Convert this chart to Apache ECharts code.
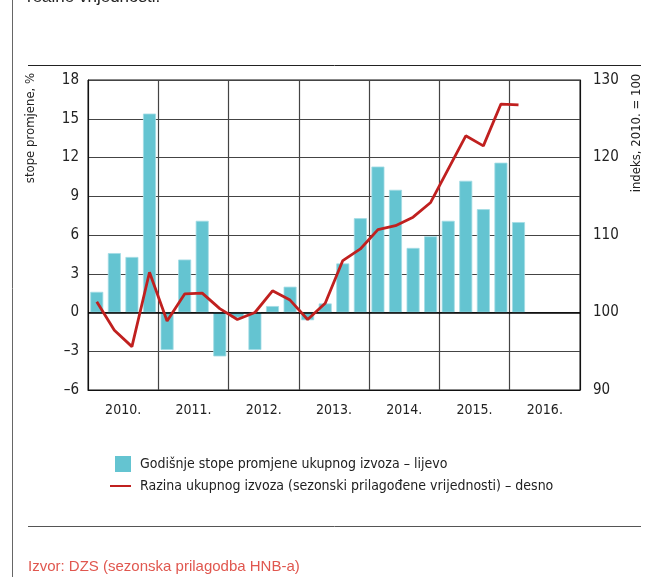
<!DOCTYPE html>
<html>
<head>
<meta charset="utf-8">
<script src="https://cdn.jsdelivr.net/npm/echarts@6/dist/echarts.min.js"></script>
<style>
  html, body { margin: 0; padding: 0; background: #fff; }
  #myChart { width: 654px; height: 577px; }
</style>
</head>
<body>
<div id="myChart"></div>
<script>
// godine na osi x
var years = ['2010.', '2011.', '2012.', '2013.', '2014.', '2015.', '2016.'];
// godisnje stope promjene ukupnog izvoza (lijevo), kvartali 2010Q1 - 2016Q1
var rateData = [1.6, 4.6, 4.3, 15.4, -2.9, 4.1, 7.1, -3.4, -0.4, -2.9, 0.5, 2.0,
                -0.6, 0.7, 3.8, 7.3, 11.3, 9.5, 5.0, 5.9, 7.1, 10.2, 8.0, 11.6, 7.0];
// razina ukupnog izvoza, indeks 2010. = 100 (desno)
var levelData = [101.4, 97.7, 95.6, 105.2, 98.9, 102.4, 102.5, 100.5, 99.1, 100.0, 102.8, 101.6,
                 99.1, 101.2, 106.7, 108.2, 110.7, 111.2, 112.3, 114.2, 118.5, 122.8, 121.5, 126.9, 126.8];
var barName = 'Godišnje stope promjene ukupnog izvoza – lijevo';
var lineName = 'Razina ukupnog izvoza (sezonski prilagođene vrijednosti) – desno';

var quarters = [];
for (var i = 0; i < years.length; i++) {
    for (var q = 1; q <= 4; q++) quarters.push(years[i] + 'Q' + q);
}

var narrow = "'Liberation Sans Narrow', 'DejaVu Sans Condensed', sans-serif";
var regular = "'Liberation Sans', Arial, sans-serif";

var myChart = echarts.init(document.getElementById('myChart'), null, { renderer: 'canvas' });
var option = {
    animation: false,
    backgroundColor: '#fff',
    grid: {
        left: 88, right: 74, top: 80, bottom: 187,
        show: true,
        borderColor: '#111',
        borderWidth: 1
    },
    legend: [{
        left: 115, top: 456,
        padding: 0,
        itemWidth: 16, itemHeight: 16,
        icon: 'rect',
        itemStyle: { borderWidth: 0 },
        data: [barName],
        textStyle: { fontFamily: narrow, fontSize: 14, color: '#222', padding: [0, 0, 0, 4] }
    }, {
        left: 110, top: 479,
        padding: 0,
        itemWidth: 21, itemHeight: 2,
        icon: 'rect',
        data: [lineName],
        textStyle: { fontFamily: narrow, fontSize: 14, color: '#222', padding: [0, 0, 0, 4] }
    }],
    xAxis: [{
        type: 'category',
        data: years,
        position: 'bottom',
        axisLine: { onZero: false, lineStyle: { color: '#111', width: 1 } },
        axisTick: { show: false },
        axisLabel: { margin: 13, fontFamily: narrow, fontSize: 14, color: '#222' },
        splitLine: { show: true, interval: 0, lineStyle: { color: '#444', width: 1.2 } }
    }, {
        type: 'category',
        data: quarters,
        position: 'bottom',
        show: false
    }],
    yAxis: [{
        type: 'value',
        min: -6, max: 18, interval: 3,
        position: 'left',
        axisLine: { show: true, lineStyle: { color: '#111' } },
        axisTick: { show: false },
        axisLabel: {
            margin: 9, fontFamily: narrow, fontSize: 15, color: '#222',
            formatter: function (v) { return v < 0 ? '–' + Math.abs(v) : '' + v; }
        },
        splitLine: { show: true, lineStyle: { color: '#444', width: 1.2 } }
    }, {
        type: 'value',
        min: 90, max: 130, interval: 10,
        position: 'right',
        axisLine: { show: true, lineStyle: { color: '#111' } },
        axisTick: { show: false },
        axisLabel: { margin: 13, fontFamily: narrow, fontSize: 15, color: '#222' },
        splitLine: { show: false }
    }],
    series: [{
        name: barName,
        type: 'bar',
        xAxisIndex: 1,
        yAxisIndex: 0,
        data: rateData,
        barWidth: 13,
        itemStyle: { color: '#64c4d1', borderColor: '#a3dce4', borderWidth: 0.8 },
        markLine: {
            silent: true,
            symbol: 'none',
            label: { show: false },
            lineStyle: { color: '#000', type: 'solid', width: 1.5 },
            data: [{ yAxis: 0 }]
        }
    }, {
        name: lineName,
        type: 'line',
        xAxisIndex: 1,
        yAxisIndex: 1,
        data: levelData,
        symbol: 'none',
        z: 5,
        itemStyle: { color: '#c0201f' },
        lineStyle: { color: '#c0201f', width: 2.8 }
    }],
    graphic: [
        // okvir stranice
        { type: 'line', shape: { x1: 12.5, y1: 0, x2: 12.5, y2: 577 }, style: { stroke: '#666', lineWidth: 1 } },
        { type: 'line', shape: { x1: 28, y1: 65.5, x2: 641, y2: 65.5 }, style: { stroke: '#222', lineWidth: 1 } },
        { type: 'line', shape: { x1: 28, y1: 526.5, x2: 641, y2: 526.5 }, style: { stroke: '#555', lineWidth: 1 } },
        { type: 'text', x: 27, y: 6, style: { text: 'realne vrijednosti.', fontFamily: regular, fontSize: 17, fill: '#222', verticalAlign: 'bottom' } },
        { type: 'text', x: 28, y: 567, style: { text: 'Izvor: DZS (sezonska prilagodba HNB-a)', fontFamily: regular, fontSize: 15, fill: '#e0574f', verticalAlign: 'middle' } },
        // nazivi osi
        { type: 'text', x: 31, y: 128, rotation: Math.PI / 2, style: { text: 'stope promjene, %', fontFamily: narrow, fontSize: 13, fill: '#222', align: 'center', verticalAlign: 'middle' } },
        { type: 'text', x: 637, y: 133, rotation: Math.PI / 2, style: { text: 'indeks, 2010. = 100', fontFamily: narrow, fontSize: 13, fill: '#222', align: 'center', verticalAlign: 'middle' } }
    ]
};
myChart.setOption(option);
</script>
</body>
</html>
